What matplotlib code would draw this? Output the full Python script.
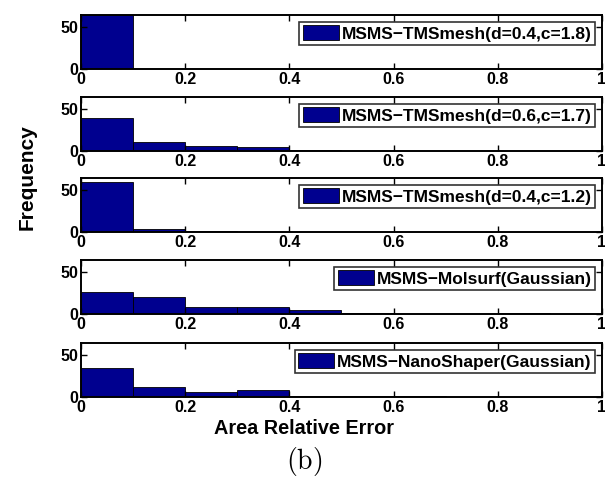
import matplotlib
matplotlib.use("Agg")
import matplotlib.pyplot as plt
import numpy as np

plt.rcParams['font.family'] = ['Liberation Sans', 'DejaVu Sans']
plt.rcParams['font.weight'] = 'bold'
plt.rcParams['mathtext.fontset'] = 'cm'

bin_edges = [0.0, 0.1, 0.2, 0.3, 0.4, 0.5, 0.6, 0.7, 0.8, 0.9, 1.0]
labels = ["MSMS\u2212TMSmesh(d=0.4,c=1.8)",
          "MSMS\u2212TMSmesh(d=0.6,c=1.7)",
          "MSMS\u2212TMSmesh(d=0.4,c=1.2)",
          "MSMS\u2212Molsurf(Gaussian)",
          "MSMS\u2212NanoShaper(Gaussian)"]
counts_1 = [65, 0, 0, 0, 0, 0, 0, 0, 0, 0]
counts_2 = [40, 11, 6, 5, 1, 0, 0, 0, 0, 0]
counts_3 = [60, 4, 1, 0, 0, 0, 0, 0, 0, 0]
counts_4 = [26, 20, 8, 8, 5, 1, 0, 0, 1, 0]
counts_5 = [35, 12, 6, 8, 1, 1, 1, 0, 0, 0]
all_counts = [counts_1, counts_2, counts_3, counts_4, counts_5]
xticks = [0, 0.2, 0.4, 0.6, 0.8, 1]
xticklabels = ["0", "0.2", "0.4", "0.6", "0.8", "1"]
yticks = [0, 50]

W, H = 605, 492
fig = plt.figure(figsize=(W / 100, H / 100), dpi=100)
tops = [15, 97, 178, 260, 343]
ph = 54
left, right = 81, 602
bar_color = '#00008F'

for i, (top, counts, lab) in enumerate(zip(tops, all_counts, labels)):
    ax = fig.add_axes([left / W, 1 - (top + ph) / H, (right - left) / W, ph / H])
    edges = np.array(bin_edges)
    ax.bar(edges[:-1], counts, width=np.diff(edges), align='edge',
           color=bar_color, edgecolor='black', linewidth=0.6, label=lab)
    ax.set_xlim(0, 1)
    ax.set_ylim(0, 65)
    ax.set_xticks(xticks)
    ax.set_xticklabels(xticklabels)
    ax.set_yticks(yticks)
    ax.tick_params(direction='in', top=True, right=True, labelsize=11.5,
                   width=1.0, length=4, pad=2)
    for lbl in ax.get_xticklabels() + ax.get_yticklabels():
        lbl.set_fontweight('bold')
    for s in ax.spines.values():
        s.set_linewidth(1.4)
    leg = ax.legend(loc='upper right', fontsize=12.5, frameon=True, fancybox=False,
                    handlelength=2.1, handleheight=0.9, borderpad=0.2,
                    handletextpad=0.15, borderaxespad=0.4)
    leg.get_frame().set_edgecolor('black')
    leg.get_frame().set_linewidth(1.2)
    for t in leg.get_texts():
        t.set_fontweight('bold')

fig.text(27 / W, 1 - 177 / H, "Frequency", rotation=90, ha='center', va='center',
         fontsize=15, fontweight='bold')
fig.text(304 / W, 1 - 428 / H, "Area Relative Error", ha='center',
         va='center', fontsize=14.3, fontweight='bold')
fig.text(304 / W, 1 - 462 / H, r"$\mathrm{(b)}$", ha='center',
         va='center', fontsize=20)

fig.savefig("out.png", dpi=100)
